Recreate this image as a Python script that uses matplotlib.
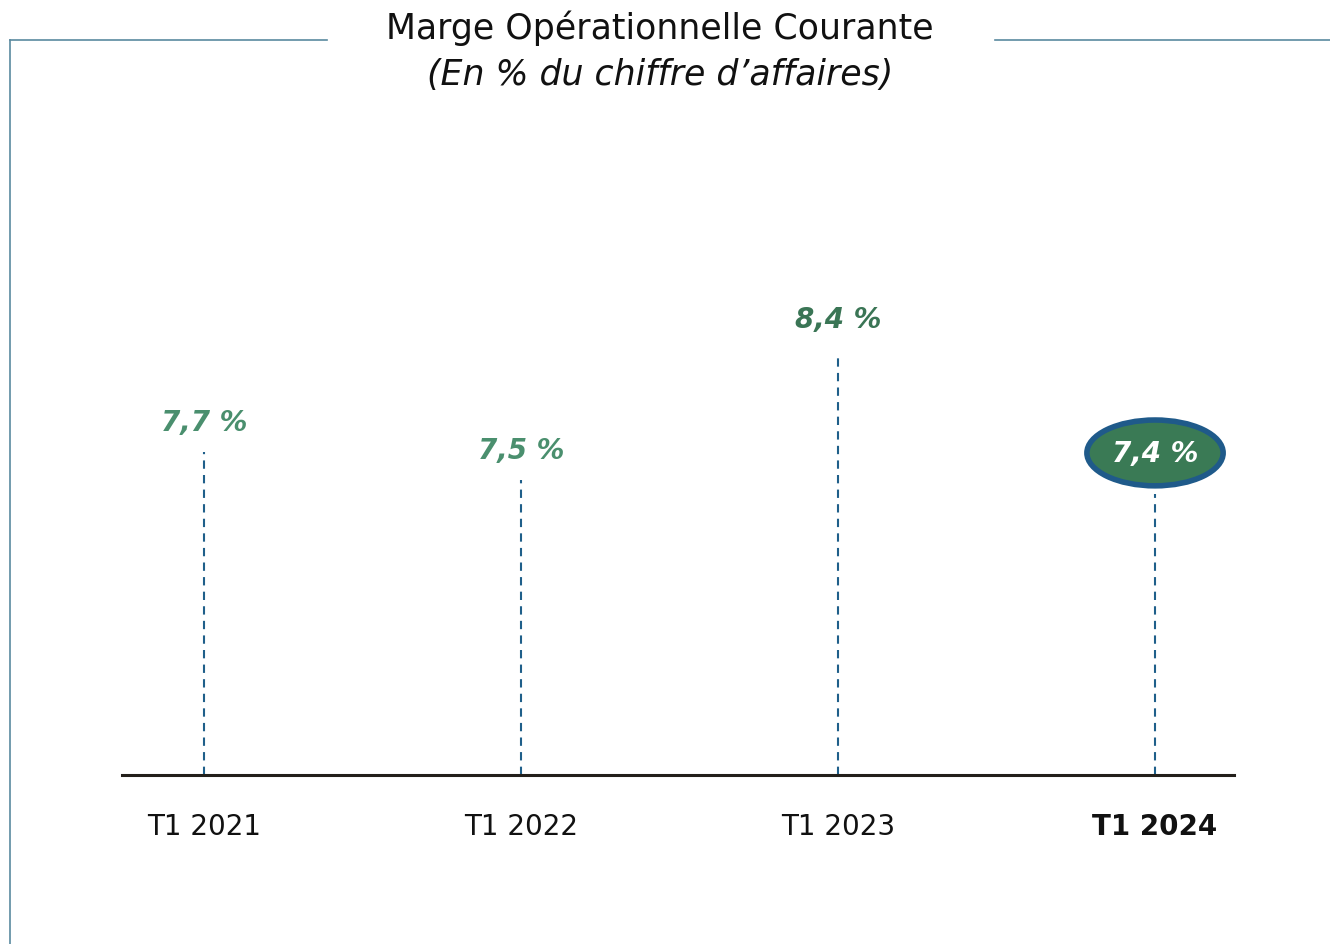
import matplotlib.pyplot as plt
from matplotlib.patches import Ellipse
from matplotlib.lines import Line2D

periods = ["T1 2021", "T1 2022", "T1 2023", "T1 2024"]
margins = [7.7, 7.5, 8.4, 7.4]
labels = ["7,7 %", "7,5 %", "8,4 %", "7,4 %"]
label_colors = ["#4a8f6e", "#4a8f6e", "#3a7555", "white"]

fig = plt.figure(figsize=(13.3, 9.45), dpi=100)
ax = fig.add_axes([0.0917, 0.1788, 0.8363, 0.535])

xs = list(range(len(periods)))
ymin = 5.39
for x, v in zip(xs, margins):
    ax.plot([x, x], [ymin, v], color="#1f5f8a", lw=1.5, ls=(0, (4, 3)))

ax.axhline(ymin, color="#231f1a", lw=2.2, clip_on=False)

# highlight last value
last = len(margins) - 1
ell = Ellipse((last, margins[last] + 0.29), 0.43, 0.47, facecolor="#3a7a55",
              edgecolor="#1f5a8a", lw=4, clip_on=False, zorder=3)
ax.add_patch(ell)

for x, v, t, c in zip(xs, margins, labels, label_colors):
    off = 25 if x == 2 else 21
    if x == last:
        ax.text(x, v + 0.29, t, ha="center", va="center", fontsize=20,
                fontweight="bold", style="italic", color=c, zorder=4)
    else:
        ax.annotate(t, (x, v), xytext=(0, off), textcoords="offset points",
                    ha="center", va="center", fontsize=20, fontweight="bold",
                    style="italic", color=c)

for x, p in zip(xs, periods):
    ax.annotate(p, (x, ymin), xytext=(0, -37), textcoords="offset points",
                ha="center", va="center", fontsize=20, color="#111111",
                fontweight="bold" if x == last else "normal")

ax.set_xlim(-0.26, 3.25)
ax.set_ylim(ymin, 9.0)
ax.axis("off")

# frame lines
fc = "#5a8aa0"
fig.add_artist(Line2D([0.0075, 0.246], [0.9566, 0.9566], color=fc, lw=1.2))
fig.add_artist(Line2D([0.0075, 0.0075], [0.0, 0.9566], color=fc, lw=1.2))
fig.add_artist(Line2D([0.748, 1.0], [0.9566, 0.9566], color=fc, lw=1.2))

fig.text(0.496, 0.970, "Marge Opérationnelle Courante", ha="center", va="center",
         fontsize=25, color="#111111")
fig.text(0.496, 0.921, "(En % du chiffre d\u2019affaires)", ha="center", va="center",
         fontsize=25, style="italic", color="#111111")

fig.savefig("out.png", dpi=100)
